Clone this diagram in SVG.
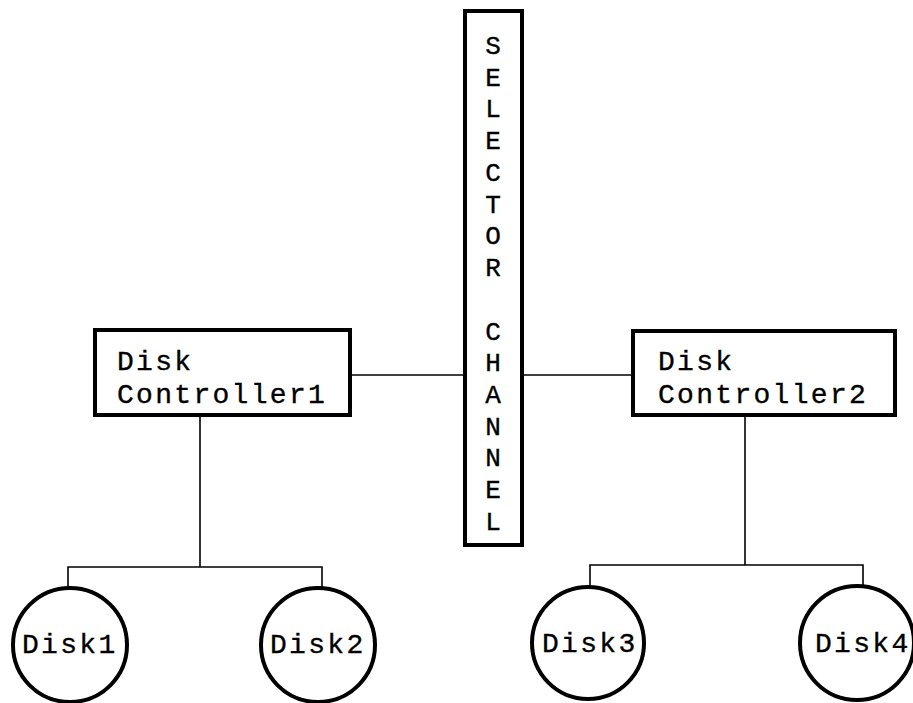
<svg xmlns="http://www.w3.org/2000/svg" width="913" height="703" viewBox="0 0 913 703">
  <style>
    .box { fill: #fff; stroke: #000; stroke-width: 4; }
    .disk { fill: #fff; stroke: #000; stroke-width: 4; }
    .wire { fill: none; stroke: #000; stroke-width: 1.6; }
    .lbl { font-family: "Liberation Mono", "Courier New", monospace; font-size: 28px; letter-spacing: 2.3px; fill: #000; stroke: #000; stroke-width: 0.35; }
    .ch { font-family: "Liberation Mono", "Courier New", monospace; font-size: 26px; fill: #000; stroke: #000; stroke-width: 0.35; text-anchor: middle; }
  </style>
  <rect width="913" height="703" fill="#fff"/>

  <!-- connectors -->
  <g id="connectors">
    <line class="wire" x1="350" y1="375" x2="465" y2="375"/>
    <line class="wire" x1="522" y1="375" x2="633" y2="375"/>
    <polyline class="wire" points="200,415 200,567"/>
    <polyline class="wire" points="68,588 68,567 322,567 322,588"/>
    <polyline class="wire" points="745,415 745,565"/>
    <polyline class="wire" points="590,586 590,565 863,565 863,586"/>
  </g>

  <!-- vertical selector channel -->
  <g id="selector-channel">
    <rect class="box" x="465" y="11" width="57" height="534"/>
    <g class="ch">
      <text x="493" y="54">S</text>
      <text x="493" y="86">E</text>
      <text x="493" y="117">L</text>
      <text x="493" y="149">E</text>
      <text x="493" y="181">C</text>
      <text x="493" y="213">T</text>
      <text x="493" y="244">O</text>
      <text x="493" y="276">R</text>
      <text x="493" y="340">C</text>
      <text x="493" y="371">H</text>
      <text x="493" y="403">A</text>
      <text x="493" y="435">N</text>
      <text x="493" y="466">N</text>
      <text x="493" y="498">E</text>
      <text x="493" y="530">L</text>
    </g>
  </g>

  <g id="controller1">
    <rect class="box" x="95" y="330" width="255" height="85"/>
    <text class="lbl" x="117" y="370">Disk</text>
    <text class="lbl" x="117" y="403">Controller1</text>
  </g>

  <g id="controller2">
    <rect class="box" x="633" y="331" width="262" height="84"/>
    <text class="lbl" x="658" y="370">Disk</text>
    <text class="lbl" x="658" y="403">Controller2</text>
  </g>

  <g id="disk1">
    <circle class="disk" cx="70" cy="645" r="57"/>
    <text class="lbl" x="22" y="653">Disk1</text>
  </g>

  <g id="disk2">
    <circle class="disk" cx="318" cy="645" r="57"/>
    <text class="lbl" x="270" y="653">Disk2</text>
  </g>

  <g id="disk3">
    <circle class="disk" cx="588" cy="643" r="56"/>
    <text class="lbl" x="542" y="652">Disk3</text>
  </g>

  <g id="disk4">
    <circle class="disk" cx="857" cy="643" r="57"/>
    <text class="lbl" x="815" y="652">Disk4</text>
  </g>
</svg>
